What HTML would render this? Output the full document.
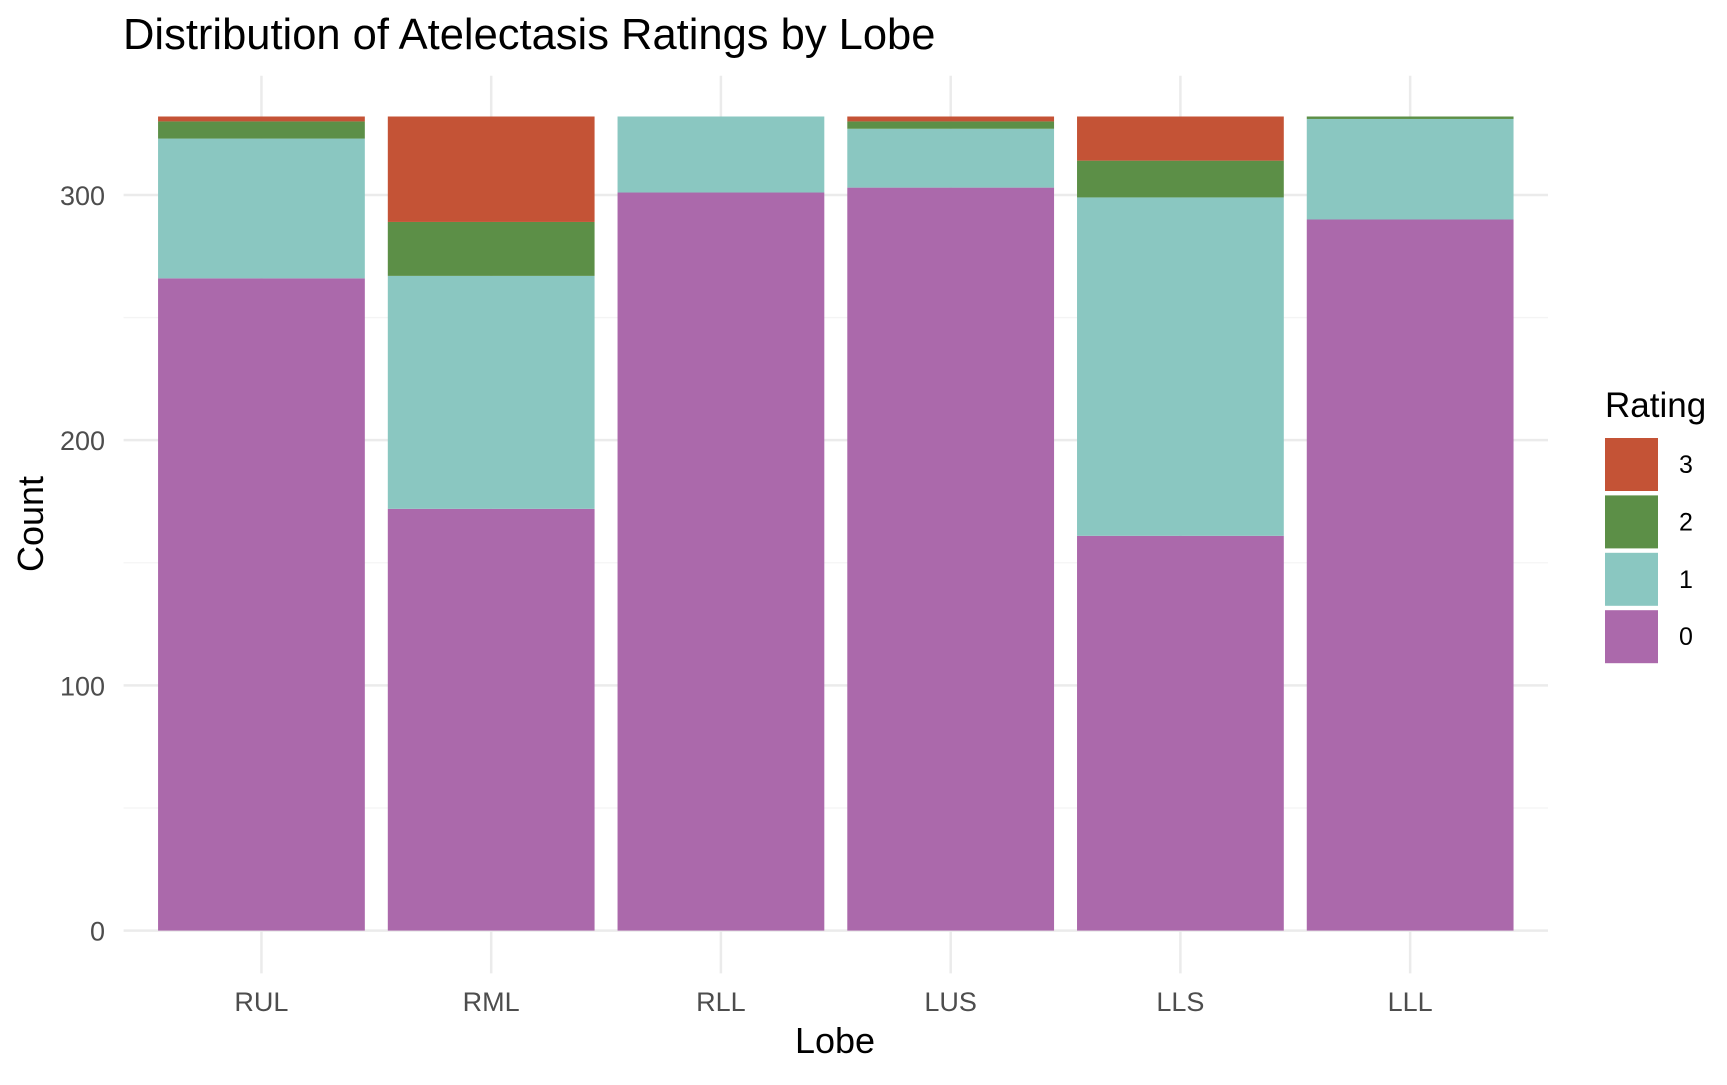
<!DOCTYPE html>
<html><head><meta charset="utf-8"><style>
body{margin:0;background:#fff;}
svg{display:block;font-family:"Liberation Sans",Arial,sans-serif;}
</style></head><body>
<svg id="chart" width="1727" height="1085" viewBox="0 0 1727 1085">
<text x="123" y="49" font-size="43.5" fill="#000">Distribution of Atelectasis Ratings by Lobe</text>
<g id="grid"></g>
<g id="bars"></g>
<g id="axes"></g>
<text x="835" y="1053" font-size="36" text-anchor="middle" fill="#000">Lobe</text>
<text transform="translate(43,524) rotate(-90)" font-size="36" text-anchor="middle" fill="#000">Count</text>
<g id="legend"></g>
</svg>
<script>
const categories = ["RUL","RML","RLL","LUS","LLS","LLL"];
const rating0 = [266,172,301,303,161,290];
const rating1 = [57,95,31,24,138,41];
const rating2 = [7,22,0,3,15,1];
const rating3 = [2,43,0,2,18,0];
const yTicks = [0,100,200,300];
const yMinor = [50,150,250];
const legendLabels = ["3","2","1","0"];

const NS="http://www.w3.org/2000/svg";
const colors=["#AB69AB","#8AC7C1","#5C8F47","#C45336"];
const series=[rating0,rating1,rating2,rating3];
const px0=123.6, px1=1548, py0=930.6, pyTop=75.8;
const totals=categories.map((c,i)=>series.reduce((s,a)=>s+a[i],0));
const ymax=Math.max(...totals)*1.05;
const ypx=(v)=>py0-(v/ymax)*(py0-pyTop);
const bottom=py0+(py0-pyTop)*0.05;
const band=(px1-px0)/(categories.length+0.2);
const xc=(i)=>px0+band*(0.6+i);
function mk(tag,attrs,parent){const e=document.createElementNS(NS,tag);for(const k in attrs)e.setAttribute(k,attrs[k]);parent.appendChild(e);return e;}
const grid=document.getElementById('grid'),bars=document.getElementById('bars'),axes=document.getElementById('axes'),legend=document.getElementById('legend');
yMinor.forEach(v=>{const l=mk('line',{x1:px0,x2:px1,y1:ypx(v),y2:ypx(v),stroke:'#f4f4f4','stroke-width':1.3},grid);

});
yTicks.forEach(v=>{const l=mk('line',{x1:px0,x2:px1,y1:ypx(v),y2:ypx(v),stroke:'#ebebeb','stroke-width':2.5},grid);


const t=mk('text',{x:105,y:ypx(v)+10,'font-size':27,'text-anchor':'end',fill:'#4d4d4d'},axes);t.textContent=v;

});
categories.forEach((c,i)=>{const l=mk('line',{x1:xc(i),x2:xc(i),y1:pyTop,y2:bottom,stroke:'#ebebeb','stroke-width':2.5},grid);


const t=mk('text',{x:xc(i),y:1011,'font-size':27,'text-anchor':'middle',fill:'#4d4d4d'},axes);t.textContent=c;


let cum=0;const w=band*0.9;
series.forEach((s,k)=>{const v=s[i];if(v<=0)return;const y1=ypx(cum+v),y2=ypx(cum);cum+=v;
const r=mk('rect',{x:xc(i)-w/2,y:y1,width:w,height:y2-y1,fill:colors[k]},bars);

});});
const lt=mk('text',{x:1605,y:417,'font-size':35,fill:'#000'},legend);lt.textContent='Rating';


legendLabels.forEach((lab,j)=>{const y=438+j*57.4;
const r=mk('rect',{x:1605,y:y,width:53,height:53,fill:colors[3-j]},legend);


const t=mk('text',{x:1679,y:y+35,'font-size':25,fill:'#000'},legend);t.textContent=lab;

});
</script>
</body></html>
